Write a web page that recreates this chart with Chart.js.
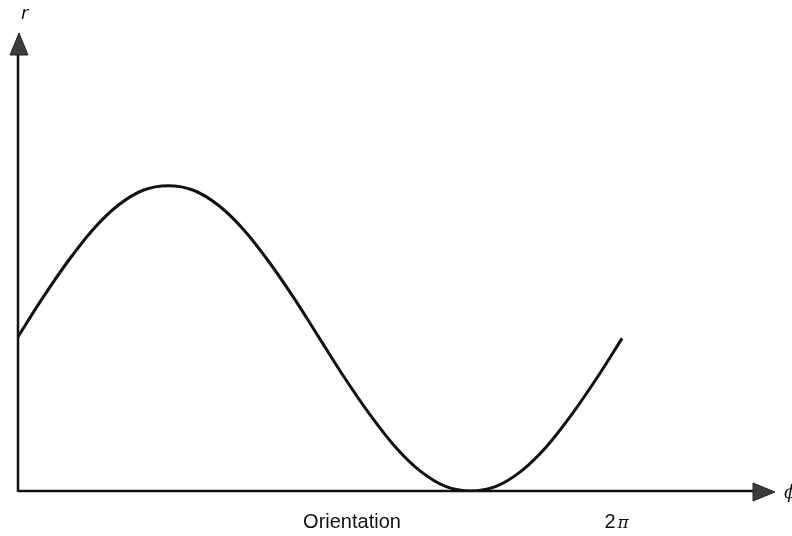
<!DOCTYPE html>
<html>
<head>
<meta charset="utf-8">
<style>
  html, body { margin: 0; padding: 0; background: #fff; }
  #wrap { width: 792px; height: 536px; position: relative; }
</style>
</head>
<body>
<div id="wrap"><canvas id="curveChart" width="792" height="536"></canvas></div>
<script src="https://cdn.jsdelivr.net/npm/chart.js"></script>
<script>
// orientation (degrees) and r
var phiDeg = [0, 15, 30, 45, 60, 75, 90, 105, 120, 135, 150, 165, 180,
              195, 210, 225, 240, 255, 270, 285, 300, 315, 330, 345, 360];
var rValues = [1.00, 1.26, 1.50, 1.71, 1.87, 1.97, 2.00, 1.97, 1.87, 1.71, 1.50, 1.26, 1.00,
               0.74, 0.50, 0.29, 0.13, 0.03, 0.00, 0.03, 0.13, 0.29, 0.50, 0.74, 1.00];
var xTickAt = 360;
var xTitle = 'Orientation';
var yName = 'r';
var xName = '\u03d5';

document.addEventListener('DOMContentLoaded', function () {
    var ctx = document.getElementById('curveChart').getContext('2d');

    var axesPlugin = {
        id: 'arrowAxes',
        afterDraw: function (chart) {
            var c = chart.ctx;
            var a = chart.chartArea;
            var xs = chart.scales.x;
            var x0 = a.left + 1, y0 = a.bottom;
            c.save();
            c.strokeStyle = '#111';
            c.lineWidth = 2.5;
            c.beginPath();
            c.moveTo(x0, y0 + 1);
            c.lineTo(x0, a.top + 18);
            c.moveTo(x0, y0);
            c.lineTo(a.right - 18, y0);
            c.stroke();

            // arrow heads
            c.fillStyle = '#3c3c3c';
            c.strokeStyle = '#222';
            c.lineWidth = 1;
            c.beginPath();
            c.moveTo(x0 + 1, a.top);
            c.lineTo(x0 - 8, a.top + 22);
            c.lineTo(x0 + 10, a.top + 22);
            c.closePath();
            c.fill();
            c.stroke();
            c.beginPath();
            c.moveTo(a.right, y0 + 1);
            c.lineTo(a.right - 22, y0 - 8);
            c.lineTo(a.right - 22, y0 + 10);
            c.closePath();
            c.fill();
            c.stroke();

            // labels
            c.fillStyle = '#111';
            c.font = 'italic 18px "DejaVu Sans", sans-serif';
            c.textAlign = 'left';
            c.textBaseline = 'middle';
            c.fillText(yName, x0 + 3, 14);
            c.font = 'italic 18px "DejaVu Serif", serif';
            c.fillText(xName, a.right + 9, y0 + 2);

            c.font = '20px "Liberation Sans", Arial, sans-serif';
            c.textAlign = 'center';
            c.fillText(xTitle, 352, 522);
            var px = xs.getPixelForValue(xTickAt);
            c.fillText('2', px - 12, 522);
            c.font = 'italic 17px "DejaVu Serif", serif';
            c.fillText('\u03c0', px + 1, 524);
            c.restore();
        }
    };

    new Chart(ctx, {
        type: 'line',
        data: {
            datasets: [{
                data: phiDeg.map(function (p, i) { return { x: p, y: rValues[i] }; }),
                borderColor: '#111',
                borderWidth: 3,
                pointRadius: 0,
                fill: false,
                tension: 0.4,
                cubicInterpolationMode: 'monotone'
            }]
        },
        options: {
            responsive: false,
            animation: false,
            layout: { padding: { left: 17, right: 17, top: 33, bottom: 45 } },
            scales: {
                x: { type: 'linear', min: 0, max: 451, display: false },
                y: { min: 0, max: 3, display: false }
            },
            plugins: {
                legend: { display: false },
                tooltip: { enabled: false }
            }
        },
        plugins: [axesPlugin]
    });
});
</script>
</body>
</html>
